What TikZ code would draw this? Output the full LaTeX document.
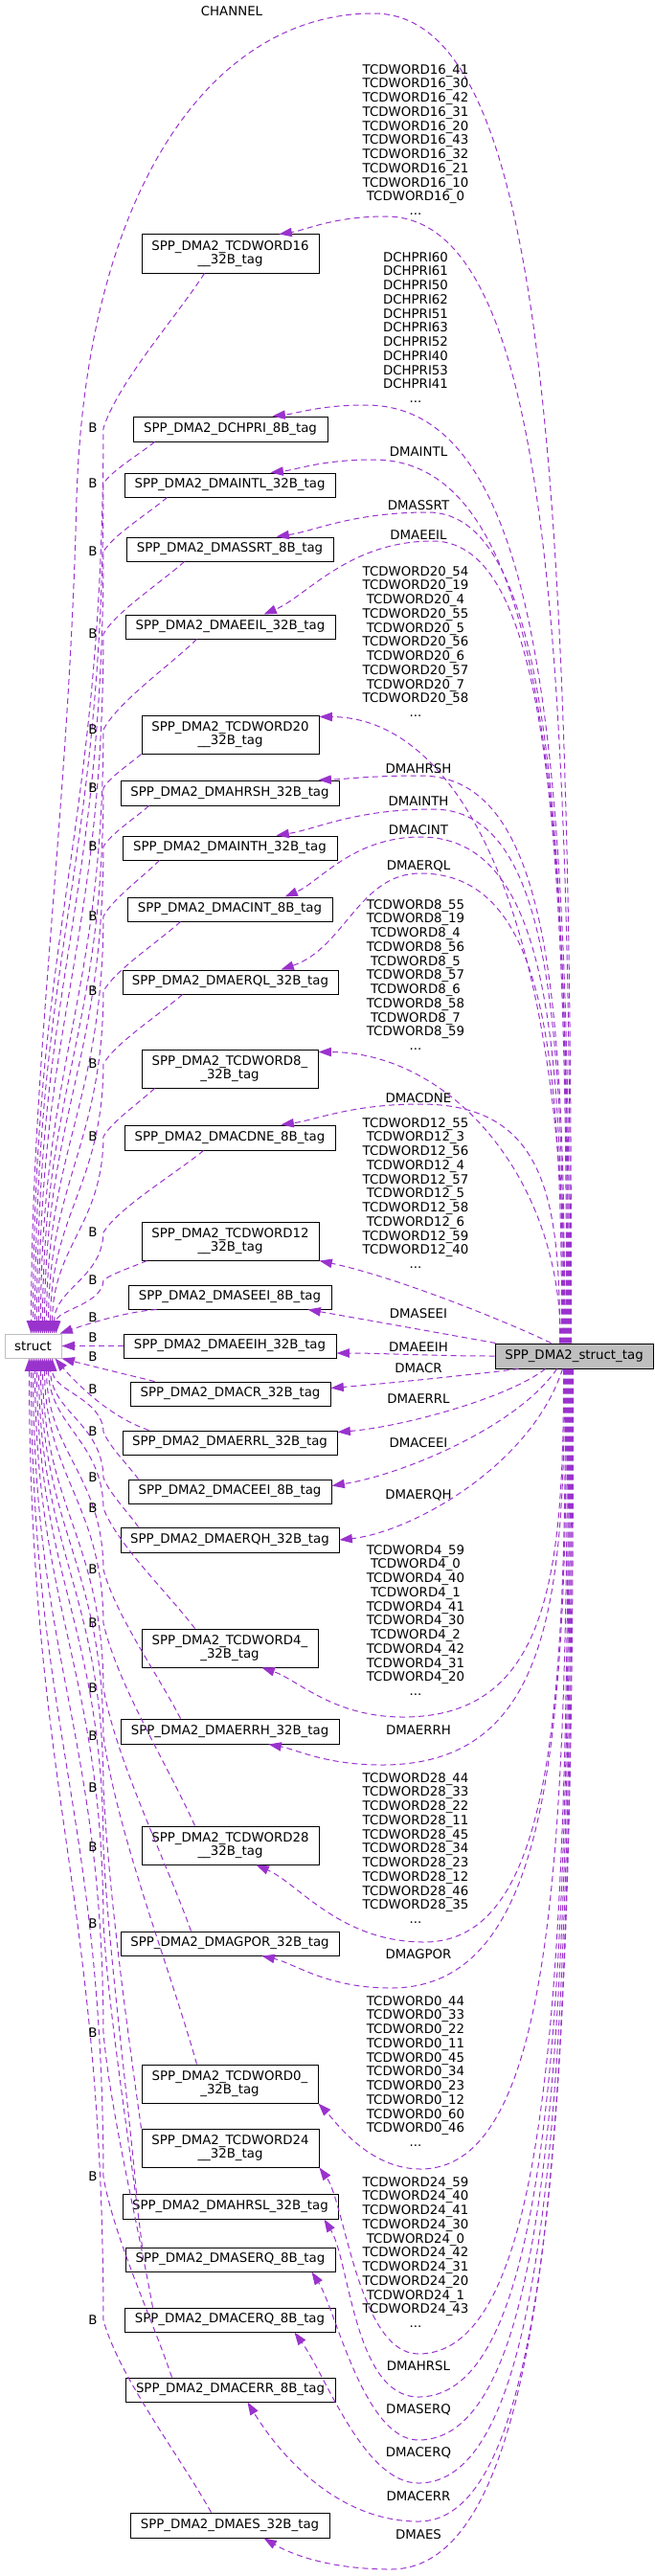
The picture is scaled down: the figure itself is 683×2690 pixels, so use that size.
\documentclass[tikz,border=0pt]{standalone}
\usepackage{fontspec}
\setmainfont{DejaVu Sans}
\usetikzlibrary{arrows.meta,calc}
\definecolor{edgecol}{HTML}{9A32CD}
\definecolor{nodegray}{HTML}{BFBFBF}
\newcommand\lblfont{\fontsize{10pt}{11.06pt}\selectfont}
\newcommand\mybox[6]{\node[box,minimum width=#4*0.75pt,minimum height=#5*0.75pt] (#1) at (#2,#3) {#6};}
\begin{document}
\begin{tikzpicture}[x=0.75pt,y=-0.75pt,
  box/.style={draw=black, fill=white, line width=0.75pt, inner sep=0pt, align=center, font=\lblfont},
  rel/.style={draw=edgecol, line width=0.75pt, dash pattern=on 4.5pt off 3pt, -{Triangle[length=10pt,width=7pt]}},
  lab/.style={font=\lblfont, align=center, inner sep=0pt},
]
\useasboundingbox (0,0) rectangle (683,2690);
% main nodes
\node[box, draw=nodegray, minimum width=44.25pt, minimum height=18.75pt] (st) at (34.5,1405.5) {struct};
\node[box, fill=nodegray, minimum width=123.75pt, minimum height=19.5pt] (ts) at (599.5,1416) {SPP\_DMA2\_struct\_tag};
% boxes
\mybox{b1}{240.5}{265}{185}{40}{SPP\_DMA2\_TCDWORD16\\\_\_32B\_tag}
\mybox{b2}{240.5}{448}{203}{26}{SPP\_DMA2\_DCHPRI\_8B\_tag}
\mybox{b3}{240}{506.5}{220}{25}{SPP\_DMA2\_DMAINTL\_32B\_tag}
\mybox{b4}{240}{573.5}{216}{25}{SPP\_DMA2\_DMASSRT\_8B\_tag}
\mybox{b5}{240.5}{654.5}{219}{25}{SPP\_DMA2\_DMAEEIL\_32B\_tag}
\mybox{b6}{240.5}{767}{185}{40}{SPP\_DMA2\_TCDWORD20\\\_\_32B\_tag}
\mybox{b7}{240}{828}{228}{26}{SPP\_DMA2\_DMAHRSH\_32B\_tag}
\mybox{b8}{240}{885.5}{224}{25}{SPP\_DMA2\_DMAINTH\_32B\_tag}
\mybox{b9}{240}{949.5}{214}{25}{SPP\_DMA2\_DMACINT\_8B\_tag}
\mybox{b10}{240.5}{1025.5}{225}{25}{SPP\_DMA2\_DMAERQL\_32B\_tag}
\mybox{b11}{240}{1116}{184}{40}{SPP\_DMA2\_TCDWORD8\_\\\_32B\_tag}
\mybox{b12}{240}{1188}{220}{26}{SPP\_DMA2\_DMACDNE\_8B\_tag}
\mybox{b13}{240.5}{1296}{185}{40}{SPP\_DMA2\_TCDWORD12\\\_\_32B\_tag}
\mybox{b14}{240}{1354.5}{212}{25}{SPP\_DMA2\_DMASEEI\_8B\_tag}
\mybox{b15}{240}{1405.5}{222}{25}{SPP\_DMA2\_DMAEEIH\_32B\_tag}
\mybox{b16}{240.5}{1455.5}{209}{25}{SPP\_DMA2\_DMACR\_32B\_tag}
\mybox{b17}{240}{1506.5}{224}{25}{SPP\_DMA2\_DMAERRL\_32B\_tag}
\mybox{b18}{240}{1557.5}{212}{25}{SPP\_DMA2\_DMACEEI\_8B\_tag}
\mybox{b19}{240}{1608}{228}{26}{SPP\_DMA2\_DMAERQH\_32B\_tag}
\mybox{b20}{240}{1721}{184}{40}{SPP\_DMA2\_TCDWORD4\_\\\_32B\_tag}
\mybox{b21}{240}{1808}{228}{26}{SPP\_DMA2\_DMAERRH\_32B\_tag}
\mybox{b22}{240.5}{1927}{185}{40}{SPP\_DMA2\_TCDWORD28\\\_\_32B\_tag}
\mybox{b23}{240}{2029.5}{228}{25}{SPP\_DMA2\_DMAGPOR\_32B\_tag}
\mybox{b24}{240}{2176}{184}{40}{SPP\_DMA2\_TCDWORD0\_\\\_32B\_tag}
\mybox{b25}{240.5}{2243}{185}{40}{SPP\_DMA2\_TCDWORD24\\\_\_32B\_tag}
\mybox{b26}{240.5}{2304}{225}{26}{SPP\_DMA2\_DMAHRSL\_32B\_tag}
\mybox{b27}{240.5}{2359.5}{219}{25}{SPP\_DMA2\_DMASERQ\_8B\_tag}
\mybox{b28}{240}{2422.5}{220}{25}{SPP\_DMA2\_DMACERQ\_8B\_tag}
\mybox{b29}{240.5}{2495.5}{219}{25}{SPP\_DMA2\_DMACERR\_8B\_tag}
\mybox{b30}{240}{2637}{208}{26}{SPP\_DMA2\_DMAES\_32B\_tag}

% CHANNEL edge
\draw[rel] ($(ts.north west)+(80,0)$) .. controls (597,500) and (570,14) .. (390,14) .. controls (220,14) and (90,200) .. (80,520) .. controls (72,850) and (33,1100) .. ($(st.north west)+(28,0)$);
\node[lab] (lch) at (242,12) {CHANNEL};

% struct_tag -> boxes (upper)
\draw[rel] ($(ts.north west)+(79,0)$) .. controls (596,697) and (577,226) .. (403,226) .. controls (347.5,226) and (319.75,240.25) .. ($(b1.north west)+(144,0)$);
\draw[rel] ($(ts.north west)+(78,0)$) .. controls (595,815) and (574,423) .. (382,423) .. controls (333.5,423) and (309,432) .. ($(b2.north west)+(146,0)$);
\draw[rel] ($(ts.north west)+(77,0)$) .. controls (594,849) and (574,480) .. (390,480) .. controls (336.5,480) and (309.75,490.5) .. ($(b3.north west)+(153,0)$);
\draw[rel] ($(ts.north west)+(76,0)$) .. controls (593,882) and (578,535) .. (447,535) .. controls (368,535) and (328.5,554.5) .. ($(b4.north west)+(157,0)$);
\draw[rel] ($(ts.north west)+(75,0)$) .. controls (592,900) and (578,565) .. (452,565) .. controls (364,565) and (320,622.75) .. ($(b5.north west)+(145,0)$);
\draw[rel] ($(ts.north west)+(74,0)$) .. controls (591,930) and (470,749) .. ($(b6.north east)+(0,2)$);
\draw[rel] ($(ts.north west)+(73,0)$) .. controls (590,1047) and (575,810) .. (439,810) .. controls (386,810) and (359.5,813.75) .. ($(b7.north west)+(207,0)$);
\draw[rel] ($(ts.north west)+(72,0)$) .. controls (589,1068) and (575,845) .. (452,845) .. controls (370.5,845) and (329.75,866) .. ($(b8.north west)+(161,0)$);
\draw[rel] ($(ts.north west)+(71,0)$) .. controls (588,1086) and (573,874) .. (439,874) .. controls (368.5,874) and (333.25,921.25) .. ($(b9.north west)+(165,0)$);
\draw[rel] ($(ts.north west)+(70,0)$) .. controls (587,1108) and (572,912) .. (439,912) .. controls (375,912) and (360,990) .. ($(b10.north west)+(166,0)$);
\draw[rel] ($(ts.north west)+(69,0)$) .. controls (586,1230) and (470,1099) .. ($(b11.north east)+(0,3)$);
\draw[rel] ($(ts.north west)+(68,0)$) .. controls (585,1253) and (570,1153) .. (439,1153) .. controls (366.5,1153) and (330.25,1169.5) .. ($(b12.north west)+(164,0)$);
\draw[rel] ($(ts.north west)+(59,0)$) .. controls (540,1385) and (420,1335) .. (b13.south east);
\draw[rel] ($(ts.north west)+(1,0)$) .. controls (470,1394) and (370,1376) .. ($(b14.south west)+(188,0)$);
\draw[rel] (ts.west) .. controls (450,1416) and (400,1413) .. ($(b15.east)+(0,7.5)$);
% struct_tag -> boxes (lower, direct)
\draw[rel] ($(ts.south west)+(25,0)$) .. controls (480,1437) and (400,1445) .. ($(b16.north east)+(0,7)$);
\draw[rel] ($(ts.south west)+(53,0)$) .. controls (530,1460) and (420,1490) .. ($(b17.north east)+(0,2)$);
\draw[rel] ($(ts.south west)+(65,0)$) .. controls (540,1490) and (420,1540) .. ($(b18.north east)+(0,7)$);
\draw[rel] ($(ts.south west)+(71,0)$) .. controls (555,1530) and (430,1600) .. (b19.east);
% struct_tag -> boxes (lower, looped)
\draw[rel] ($(ts.south west)+(72,0)$) .. controls (589,1647) and (572,1793) .. (421,1793) .. controls (347.5,1793) and (311,1754) .. ($(b20.south west)+(126,0)$);
\draw[rel] ($(ts.south west)+(73,0)$) .. controls (590,1677) and (571,1843) .. (399,1843) .. controls (340,1843) and (310,1827) .. ($(b21.south west)+(155,0)$);
\draw[rel] ($(ts.south west)+(74,0)$) .. controls (591,1788) and (576,2028) .. (443,2028) .. controls (355,2028) and (312,1967) .. ($(b22.south west)+(120,0)$);
\draw[rel] ($(ts.south west)+(75,0)$) .. controls (592,1817) and (574,2076) .. (408,2076) .. controls (341,2076) and (307,2050) .. ($(b23.south west)+(148,0)$);
\draw[rel] ($(ts.south west)+(76,0)$) .. controls (593,1931) and (578,2265) .. (439,2265) .. controls (385,2265) and (350,2215) .. (b24.south east);
\draw[rel] ($(ts.south west)+(77,0)$) .. controls (594,2046) and (578,2458) .. (437,2458) .. controls (375,2458) and (360,2300) .. (b25.south east);
\draw[rel] ($(ts.south west)+(78,0)$) .. controls (595,2073) and (579,2503) .. (437,2503) .. controls (370,2503) and (365,2360) .. ($(b26.south east)+(-15,0)$);
\draw[rel] ($(ts.south west)+(79,0)$) .. controls (596,2100) and (580,2548) .. (437,2548) .. controls (380,2548) and (350,2410) .. ($(b27.south east)+(-25,0)$);
\draw[rel] ($(ts.south west)+(80,0)$) .. controls (597,2127) and (581,2593) .. (437,2593) .. controls (380,2593) and (340,2480) .. ($(b28.south east)+(-43,0)$);
\draw[rel] ($(ts.south west)+(81,0)$) .. controls (598,2151) and (582,2633) .. (437,2633) .. controls (350,2633) and (290,2560) .. ($(b29.south west)+(128,0)$);
\draw[rel] ($(ts.south west)+(82,0)$) .. controls (599,2181) and (580,2683) .. (408,2683) .. controls (340,2683) and (300,2665) .. ($(b30.south west)+(140,0)$);

% member labels
\node[lab] (l1) at (434,146) {TCDWORD16\_41\\TCDWORD16\_30\\TCDWORD16\_42\\TCDWORD16\_31\\TCDWORD16\_20\\TCDWORD16\_43\\TCDWORD16\_32\\TCDWORD16\_21\\TCDWORD16\_10\\TCDWORD16\_0\\...};
\node[lab] (l2) at (434,342) {DCHPRI60\\DCHPRI61\\DCHPRI50\\DCHPRI62\\DCHPRI51\\DCHPRI63\\DCHPRI52\\DCHPRI40\\DCHPRI53\\DCHPRI41\\...};
\node[lab] (l3) at (437,472) {DMAINTL};
\node[lab] (l4) at (437,528) {DMASSRT};
\node[lab] (l5) at (437,559) {DMAEEIL};
\node[lab] (l6) at (434,670) {TCDWORD20\_54\\TCDWORD20\_19\\TCDWORD20\_4\\TCDWORD20\_55\\TCDWORD20\_5\\TCDWORD20\_56\\TCDWORD20\_6\\TCDWORD20\_57\\TCDWORD20\_7\\TCDWORD20\_58\\...};
\node[lab] (l7) at (437,803) {DMAHRSH};
\node[lab] (l8) at (437,837) {DMAINTH};
\node[lab] (l9) at (437,867) {DMACINT};
\node[lab] (l10) at (437,904) {DMAERQL};
\node[lab] (l11) at (434,1018) {TCDWORD8\_55\\TCDWORD8\_19\\TCDWORD8\_4\\TCDWORD8\_56\\TCDWORD8\_5\\TCDWORD8\_57\\TCDWORD8\_6\\TCDWORD8\_58\\TCDWORD8\_7\\TCDWORD8\_59\\...};
\node[lab] (l12) at (437,1147) {DMACDNE};
\node[lab] (l13) at (434,1246) {TCDWORD12\_55\\TCDWORD12\_3\\TCDWORD12\_56\\TCDWORD12\_4\\TCDWORD12\_57\\TCDWORD12\_5\\TCDWORD12\_58\\TCDWORD12\_6\\TCDWORD12\_59\\TCDWORD12\_40\\...};
\node[lab] (l14) at (437,1372) {DMASEEI};
\node[lab] (l15) at (437,1407) {DMAEEIH};
\node[lab] (l16) at (437,1429) {DMACR};
\node[lab] (l17) at (437,1461) {DMAERRL};
\node[lab] (l18) at (437,1507) {DMACEEI};
\node[lab] (l19) at (437,1561) {DMAERQH};
\node[lab] (l20) at (434,1692) {TCDWORD4\_59\\TCDWORD4\_0\\TCDWORD4\_40\\TCDWORD4\_1\\TCDWORD4\_41\\TCDWORD4\_30\\TCDWORD4\_2\\TCDWORD4\_42\\TCDWORD4\_31\\TCDWORD4\_20\\...};
\node[lab] (l21) at (437,1807) {DMAERRH};
\node[lab] (l22) at (434,1930) {TCDWORD28\_44\\TCDWORD28\_33\\TCDWORD28\_22\\TCDWORD28\_11\\TCDWORD28\_45\\TCDWORD28\_34\\TCDWORD28\_23\\TCDWORD28\_12\\TCDWORD28\_46\\TCDWORD28\_35\\...};
\node[lab] (l23) at (437,2041) {DMAGPOR};
\node[lab] (l24) at (434,2163) {TCDWORD0\_44\\TCDWORD0\_33\\TCDWORD0\_22\\TCDWORD0\_11\\TCDWORD0\_45\\TCDWORD0\_34\\TCDWORD0\_23\\TCDWORD0\_12\\TCDWORD0\_60\\TCDWORD0\_46\\...};
\node[lab] (l25) at (434,2352) {TCDWORD24\_59\\TCDWORD24\_40\\TCDWORD24\_41\\TCDWORD24\_30\\TCDWORD24\_0\\TCDWORD24\_42\\TCDWORD24\_31\\TCDWORD24\_20\\TCDWORD24\_1\\TCDWORD24\_43\\...};
\node[lab] (l26) at (437,2471) {DMAHRSL};
\node[lab] (l27) at (437,2516) {DMASERQ};
\node[lab] (l28) at (437,2561) {DMACERQ};
\node[lab] (l29) at (437,2607) {DMACERR};
\node[lab] (l30) at (437,2647) {DMAES};

% boxes -> struct (B edges), upper
\draw[rel] ($(b1.south west)+(66,0)$) .. controls (182.2,333.6) and (123.9,398.4) .. (108,447) .. controls (107,872.7) and (35,967.3) .. ($(st.north west)+(30,0)$);
\draw[rel] ($(b2.south west)+(23,0)$) .. controls (145.8,474.2) and (116.1,491.8) .. (108,505) .. controls (107,904.6) and (37,993.4) .. ($(st.north west)+(32,0)$);
\draw[rel] ($(b3.south west)+(45,0)$) .. controls (154.9,536.1) and (118.05,558.9) .. (108,576) .. controls (107,943.65) and (39,1025.35) .. ($(st.north west)+(34,0)$);
\draw[rel] ($(b4.south west)+(61,0)$) .. controls (167.5,608.8) and (120.75,639.2) .. (108,662) .. controls (107,991) and (41,1064) .. ($(st.north west)+(36,0)$);
\draw[rel] ($(b5.south west)+(75,0)$) .. controls (176.6,695.5) and (122.7,733.5) .. (108,762) .. controls (107,1046) and (43,1109) .. ($(st.north west)+(38,0)$);
\draw[rel] (b6.south west) .. controls (135.3,797.8) and (113.85,812.2) .. (108,823) .. controls (107,1079.5) and (45,1136.5) .. ($(st.north west)+(40,0)$);
\draw[rel] ($(b7.south west)+(30,0)$) .. controls (141.6,853.9) and (115.2,871.1) .. (108,884) .. controls (107,1113) and (47,1164) .. ($(st.north west)+(42,0)$);
\draw[rel] ($(b8.south west)+(39,0)$) .. controls (149.3,915.7) and (116.85,939.3) .. (108,957) .. controls (107,1153.2) and (49,1196.8) .. ($(st.north west)+(44,0)$);
\draw[rel] ($(b9.south west)+(56,0)$) .. controls (164.7,983.9) and (120.15,1013.1) .. (108,1035) .. controls (107,1196.1) and (51,1231.9) .. ($(st.north west)+(46,0)$);
\draw[rel] ($(b10.south west)+(63,0)$) .. controls (166.1,1059.9) and (120.45,1089.1) .. (108,1111) .. controls (107,1237.9) and (53,1266.1) .. ($(st.north west)+(48,0)$);
\draw[rel] ($(b11.south west)+(14,0)$) .. controls (145.8,1151.3) and (116.1,1171.7) .. (108,1187) .. controls (107,1279.7) and (55,1300.3) .. ($(st.north west)+(50,0)$);
\draw[rel] ($(b12.south west)+(83,0)$) .. controls (181.5,1226.8) and (123.75,1261.2) .. (108,1287) .. controls (107,1334.7) and (57,1345.3) .. ($(st.north west)+(52,0)$);
\draw[rel] ($(b13.south west)+(6,0)$) .. controls (140.2,1322.3) and (114.9,1330.7) .. (108,1337) .. controls (107,1362.2) and (59,1367.8) .. ($(st.north west)+(54,0)$);
\draw[rel] ($(b14.south west)+(30,0)$) .. controls (130,1370) and (90,1383) .. ($(st.north west)+(58,0)$);
\draw[rel] (b15.west) -- (st.east);
% lower
\draw[rel] ($(b16.north west)+(26,0)$) .. controls (130,1435) and (90,1425) .. (st.south east);
\draw[rel] ($(b17.north west)+(28,0)$) .. controls (115,1480) and (80,1445) .. ($(st.south west)+(53,0)$);
\draw[rel] ($(b18.north west)+(11,0)$) .. controls (133.9,1530) and (113.55,1510) .. (108,1495) .. controls (107,1460.35) and (55,1452.65) .. ($(st.south west)+(50,0)$);
\draw[rel] ($(b19.north west)+(19,0)$) .. controls (133.9,1579.4) and (113.55,1558.6) .. (108,1543) .. controls (107,1486.75) and (53,1474.25) .. ($(st.south west)+(48,0)$);
\draw[rel] ($(b20.north west)+(56,0)$) .. controls (175.2,1663.2) and (122.4,1612.8) .. (108,1575) .. controls (107,1504.35) and (51,1488.65) .. ($(st.south west)+(46,0)$);
\draw[rel] ($(b21.north west)+(63,0)$) .. controls (164.7,1748.2) and (120.15,1685.8) .. (108,1639) .. controls (107,1539.55) and (49,1517.45) .. ($(st.south west)+(44,0)$);
\draw[rel] ($(b22.north west)+(56,0)$) .. controls (175.2,1843.4) and (122.4,1758.6) .. (108,1695) .. controls (107,1570.35) and (47,1542.65) .. ($(st.south west)+(42,0)$);
\draw[rel] ($(b23.north west)+(74,0)$) .. controls (172.4,1940.8) and (121.8,1839.2) .. (108,1763) .. controls (107,1607.75) and (45,1573.25) .. ($(st.south west)+(40,0)$);
\draw[rel] ($(b24.north west)+(58,0)$) .. controls (176.6,2053.1) and (122.7,1915.9) .. (108,1813) .. controls (107,1635.25) and (43,1595.75) .. ($(st.south west)+(38,0)$);
\draw[rel] (b25.north west) .. controls (132.5,2116.2) and (113.25,1973.8) .. (108,1867) .. controls (107,1665) and (41,1620) .. ($(st.south west)+(36,0)$);
\draw[rel] ($(b26.north west)+(15,0)$) .. controls (132.5,2180.3) and (113.25,2036.7) .. (108,1929) .. controls (107,1699) and (39,1648) .. ($(st.south west)+(34,0)$);
\draw[rel] ($(b27.north west)+(18,0)$) .. controls (136.7,2245.6) and (114.15,2110.4) .. (108,2009) .. controls (107,1743) and (37,1684) .. ($(st.south west)+(32,0)$);
\draw[rel] ($(b28.north west)+(30,0)$) .. controls (144.4,2323.9) and (115.8,2209.1) .. (108,2123) .. controls (107,1806) and (35,1735) .. ($(st.south west)+(30,0)$);
\draw[rel] ($(b29.north west)+(49,0)$) .. controls (158.4,2420) and (118.8,2336) .. (108,2273) .. controls (107,1888) and (33,1803) .. ($(st.south west)+(28,0)$);
\draw[rel] ($(b30.north west)+(85,0)$) .. controls (187.1,2563.7) and (124.95,2483.3) .. (108,2423) .. controls (107,1971) and (31,1870) .. ($(st.south west)+(26,0)$);

% B labels
\foreach \yb [count=\i] in {447,505,576,662,762,823,884,957,1035,1111,1187,1287,1337,1376,1397,1417,1451,1495,1543,1575,1639,1695,1763,1813,1867,1929,2009,2123,2273,2423}
  \node[lab] (B\i) at (97,\yb) {B};
\end{tikzpicture}
\end{document}
